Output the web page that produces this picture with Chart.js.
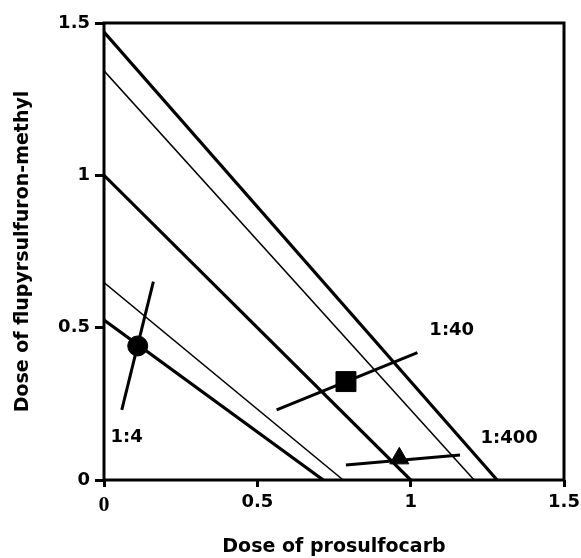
<!DOCTYPE html>
<html lang="en">
<head>
    <meta charset="UTF-8">
    <title>Isobologram prosulfocarb / flupyrsulfuron-methyl</title>
    <script src="https://cdn.jsdelivr.net/npm/chart.js"></script>
    <style>
        body {
            margin: 0;
            background: #fff;
        }

        #chartContainer {
            position: relative;
            width: 581px;
            height: 558px;
        }
    </style>
</head>
<body>
    <div id="chartContainer">
        <canvas id="isoChart"></canvas>
    </div>

    <script>
        // isoboles: intercepts on the y axis (flupyrsulfuron) and on the x axis (prosulfocarb)
        const isoboleYIntercept = [1.47, 1.343, 1.0, 0.648, 0.525];
        const isoboleXIntercept = [1.282, 1.207, 1.0, 0.780, 0.715];
        const isoboleThick = [true, false, true, false, true];

        // mixture ratios: observed ED point and the ray drawn through it
        const ratioNames = ['1:4', '1:40', '1:400'];
        const pointX = [0.110, 0.789, 0.963];
        const pointY = [0.440, 0.323, 0.071];
        const rayStartX = [0.058, 0.563, 0.789];
        const rayStartY = [0.230, 0.230, 0.049];
        const rayEndX = [0.161, 1.022, 1.161];
        const rayEndY = [0.651, 0.418, 0.082];
        const ratioLabelX = [0.074, 1.134, 1.321];
        const ratioLabelY = [0.139, 0.492, 0.137];

        const xTickLabels = ['0', '0.5', '1', '1.5'];
        const yTickLabels = ['0', '0.5', '1', '1.5'];

        const sansBold = { family: 'DejaVu Sans', size: 18, weight: 'bold' };
        const markerStyles = ['circle', 'rect', 'triangle'];
        const markerRadius = [10, 14.1, 11];

        const datasets = [];

        isoboleYIntercept.forEach((y0, i) => {
            datasets.push({
                data: [{ x: 0, y: y0 }, { x: isoboleXIntercept[i], y: 0 }],
                showLine: true,
                borderColor: '#000',
                borderWidth: isoboleThick[i] ? 3.2 : 1.5,
                pointRadius: 0,
                pointHoverRadius: 0
            });
        });

        ratioNames.forEach((name, i) => {
            datasets.push({
                label: name,
                data: [{ x: rayStartX[i], y: rayStartY[i] }, { x: rayEndX[i], y: rayEndY[i] }],
                showLine: true,
                borderColor: '#000',
                borderWidth: 3,
                pointRadius: 0,
                pointHoverRadius: 0
            });
            datasets.push({
                data: [{ x: pointX[i], y: pointY[i] }],
                showLine: false,
                pointStyle: markerStyles[i],
                pointRadius: markerRadius[i],
                pointHoverRadius: markerRadius[i],
                backgroundColor: '#000',
                borderColor: '#000',
                borderWidth: 1
            });
        });

        // frame round the plot + ratio labels
        const framePlugin = {
            id: 'frame',
            afterDatasetsDraw(chart) {
                const { ctx, chartArea, scales } = chart;
                ctx.save();
                ctx.strokeStyle = '#000';
                ctx.lineWidth = 3;
                ctx.strokeRect(chartArea.left, chartArea.top,
                    chartArea.right - chartArea.left, chartArea.bottom - chartArea.top);

                ctx.fillStyle = '#000';
                ctx.font = 'bold 18px "DejaVu Sans"';
                ctx.textAlign = 'center';
                ctx.textBaseline = 'middle';
                ratioNames.forEach((name, i) => {
                    ctx.fillText(name, scales.x.getPixelForValue(ratioLabelX[i]),
                        scales.y.getPixelForValue(ratioLabelY[i]));
                });
                ctx.restore();
            }
        };

        const ctx = document.getElementById('isoChart').getContext('2d');
        new Chart(ctx, {
            type: 'scatter',
            data: { datasets },
            plugins: [framePlugin],
            options: {
                responsive: true,
                maintainAspectRatio: false,
                animation: false,
                layout: {
                    padding: { top: 23, right: 17, bottom: 0, left: 0 }
                },
                scales: {
                    x: {
                        type: 'linear',
                        min: 0,
                        max: 1.5,
                        afterFit: (scale) => {
                            scale.height = 78;
                            scale.paddingLeft = 0;
                            scale.paddingRight = 0;
                        },
                        border: { display: false },
                        grid: {
                            drawOnChartArea: false,
                            drawTicks: true,
                            tickLength: 7,
                            tickWidth: 3,
                            color: '#000'
                        },
                        ticks: {
                            stepSize: 0.5,
                            padding: 5,
                            color: '#000',
                            maxRotation: 0,
                            font: (c) => c.index === 0
                                ? { family: 'Liberation Serif', size: 22, weight: 'bold' }
                                : sansBold,
                            callback: (v, i) => xTickLabels[i]
                        },
                        title: {
                            display: true,
                            text: 'Dose of prosulfocarb',
                            color: '#000',
                            font: { family: 'DejaVu Sans', size: 19, weight: 'bold', lineHeight: 1 },
                            padding: { top: 0, bottom: 1 }
                        }
                    },
                    y: {
                        type: 'linear',
                        min: 0,
                        max: 1.5,
                        afterFit: (scale) => {
                            scale.width = 104;
                            scale.paddingTop = 0;
                            scale.paddingBottom = 0;
                        },
                        border: { display: false },
                        grid: {
                            drawOnChartArea: false,
                            drawTicks: true,
                            tickLength: 9,
                            tickWidth: 3,
                            color: '#000'
                        },
                        ticks: {
                            stepSize: 0.5,
                            padding: 5,
                            color: '#000',
                            font: sansBold,
                            callback: (v, i) => yTickLabels[i]
                        },
                        title: {
                            display: true,
                            text: 'Dose of flupyrsulfuron-methyl',
                            color: '#000',
                            font: { family: 'DejaVu Sans', size: 19, weight: 'bold', lineHeight: 1 },
                            padding: { top: 14, bottom: 0 }
                        }
                    }
                },
                plugins: {
                    legend: { display: false },
                    tooltip: { enabled: false }
                }
            }
        });
    </script>
</body>
</html>
